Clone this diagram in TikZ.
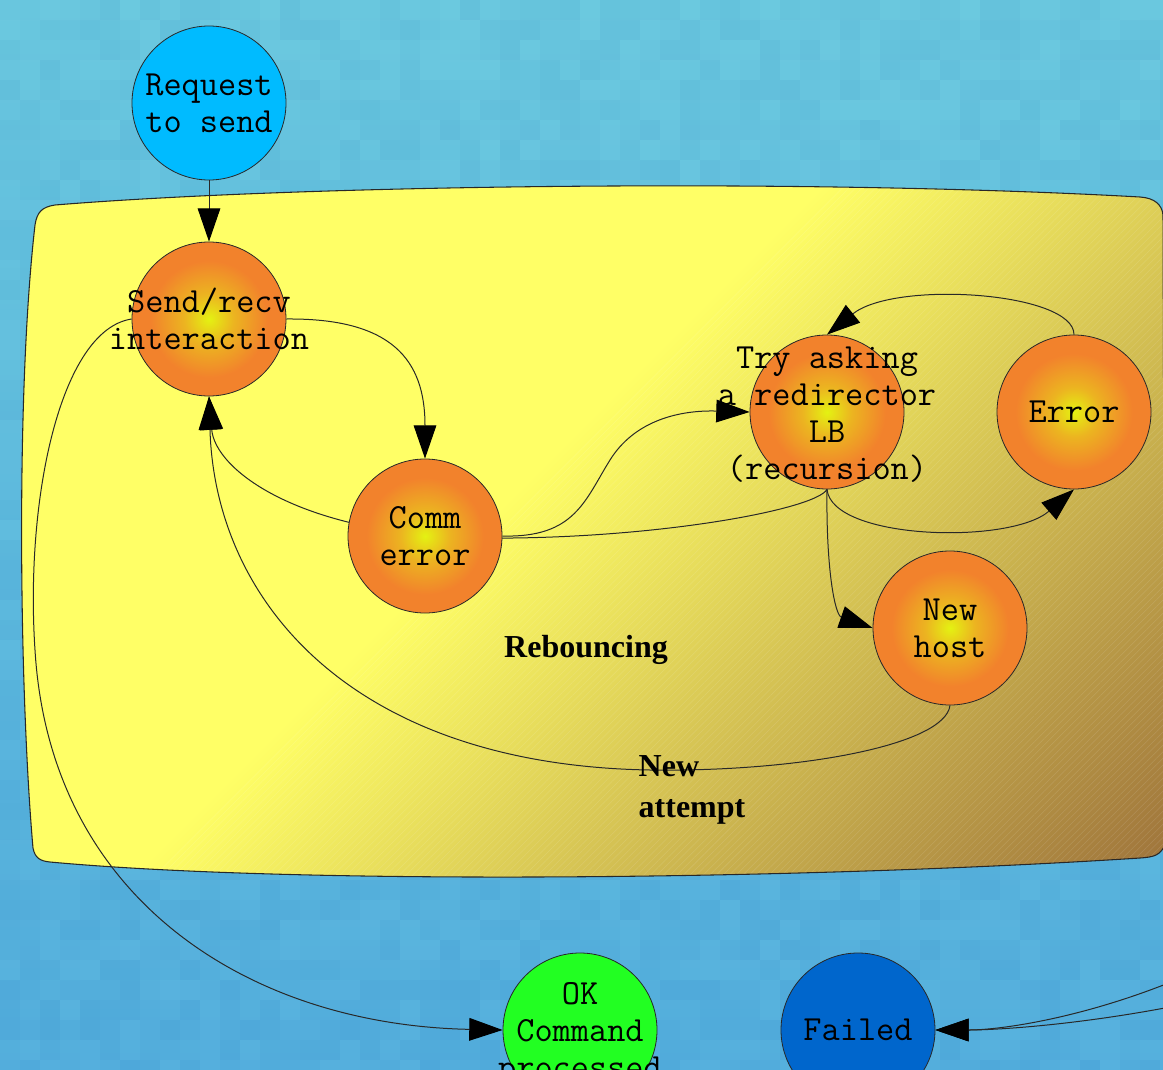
\documentclass[tikz,border=0pt]{standalone}
\usepackage{fontspec}
\newfontfamily\lserif{Liberation Serif}
\usetikzlibrary{arrows.meta,patterns.meta}

\definecolor{bgtop}{RGB}{106,200,222}
\definecolor{bgbot}{RGB}{80,170,220}
\definecolor{bgL}{RGB}{118,210,232}
\definecolor{bgD}{RGB}{72,162,208}
\definecolor{cY}{RGB}{255,255,102}
\definecolor{cBr}{RGB}{160,118,60}
\definecolor{orbY}{RGB}{228,242,18}
\definecolor{orbO}{RGB}{242,130,44}
\colorlet{orbM}{orbY!45!orbO}
\definecolor{reqC}{RGB}{0,187,255}
\definecolor{okC}{RGB}{34,255,34}
\definecolor{failC}{RGB}{0,102,204}
\definecolor{lineC}{RGB}{40,40,40}

\pgfdeclareradialshading{orb}{\pgfpoint{0bp}{0bp}}{color(0bp)=(orbY); color(8bp)=(orbM); color(19bp)=(orbO); color(50bp)=(orbO)}
\pgfdeclarehorizontalshading{clus}{100bp}{color(0bp)=(cY); color(47bp)=(cY); color(72.6bp)=(cBr); color(100bp)=(cBr)}

\pgfdeclarelayer{bg}
\pgfdeclarelayer{edges}
\pgfsetlayers{bg,edges,main}

\tikzset{
  st/.style={circle, draw=lineC, line width=0.6pt, minimum size=115.5pt, inner sep=0pt},
  txt/.style={align=center, inner sep=0pt, font=\ttfamily\fontsize{26.5}{27.75}\selectfont, text=black},
  orbnode/.style={st, shade, shading=orb},
  edge/.style={draw=lineC, line width=0.75pt, -{Triangle[length=25pt,width=17pt,color=black]}},
  lbl/.style={font=\lserif\bfseries\fontsize{24}{30.75}\selectfont, text=black},
}

\begin{document}
\begin{tikzpicture}[x=0.75pt,y=-0.75pt]
\useasboundingbox (0,0) rectangle (1163,1070);
\clip (0,0) rectangle (1163,1070);

\begin{pgfonlayer}{bg}
% background
\shade[top color=bgtop, bottom color=bgbot] (0,0) rectangle (1163,1070);
\pgfmathsetseed{11}
\foreach \i in {0,...,58}{
  \foreach \j in {0,...,53}{
    \pgfmathsetmacro\p{100*rnd}
    \fill[bgL!\p!bgD, opacity=0.18] (\i*20,\j*20) rectangle ++(20,20);
  }
}

% cluster
\def\cluspath{(55,205) .. controls (300,185) and (800,178) .. (1140,197)
  .. controls (1155,198) and (1162,205) .. (1163,215) -- (1165,845)
  .. controls (1160,855) and (1155,857) .. (1140,858)
  .. controls (800,880) and (300,885) .. (50,862)
  .. controls (40,861) and (35,858) .. (33,848)
  .. controls (20,700) and (15,400) .. (35,225)
  .. controls (37,212) and (42,207) .. (55,205) -- cycle}
\begin{scope}
  \clip \cluspath;
  \shade[shading=clus, shading angle=-45] (590,535) ++(-700,-700) rectangle ++(1400,1400);
  \begin{scope}
    \clip (1030,0) -- (1300,0) -- (1300,1200) -- (0,1200) -- (0,1030) -- cycle;
    \fill[pattern={Lines[angle=45,distance=3.5pt,line width=0.4pt]}, pattern color=white, opacity=0.12] (0,0) rectangle (1200,1100);
  \end{scope}
\end{scope}
\draw[lineC, line width=0.8pt] \cluspath;
\end{pgfonlayer}

% nodes
\node[st, fill=reqC, label={[txt]center:{Request\\to send}}] (req) at (209,103) {};
\node[orbnode, label={[txt]center:{Send/recv\\interaction}}] (sr) at (209,319) {};
\node[orbnode, label={[txt]center:{Comm\\error}}] (comm) at (425,536) {};
\node[orbnode, label={[txt, yshift=-2pt]center:{Try asking\\a redirector\\LB\\(recursion)}}] (try) at (827,412) {};
\node[orbnode, label={[txt]center:{Error}}] (err) at (1074,412) {};
\node[orbnode, label={[txt]center:{New\\host}}] (nh) at (950,628) {};
\node[st, fill=okC, label={[txt, yshift=-3pt]center:{OK\\Command\\processed}}] (ok) at (580,1030) {};
\node[st, fill=failC, label={[txt]center:{Failed}}] (fail) at (858,1030) {};

\coordinate (fa) at (1195,972);
\coordinate (fb) at (1195,1002);

% labels
\node[lbl] (reb) at (586,650) {Rebouncing};
\node[lbl, align=left, anchor=west] (na) at (634,790) {New\\attempt};

% edges
\begin{pgfonlayer}{edges}
\draw[edge] (req) -- (sr);
\draw[edge] (sr.east) .. controls (392,318) and (425,360) .. (comm.north);
\draw[edge] (comm.east) .. controls (575,538) and (585,500) .. (610,460)
  .. controls (635,420) and (680,410) .. (try.west);
\draw[edge] (try.south) .. controls (815,510) and (650,540) .. (480,538)
  .. controls (300,535) and (215,470) .. (sr.south);
\draw[edge] (nh.south) .. controls (945,745) and (800,772) .. (650,770)
  .. controls (350,765) and (215,600) .. (sr.south);
\draw[edge] (sr.west) .. controls (60,330) and (25,500) .. (35,650)
  .. controls (50,900) and (250,1025) .. (ok.west);
\draw[edge] (try.south) .. controls (832,540) and (1010,545) .. (err.south);
\draw[edge] (err.north) .. controls (1074,292) and (895,280) .. (try.north);
\draw[edge] (try.south) .. controls (826,570) and (835,615) .. (nh.west);
\draw[edge] (fa) .. controls (1090,1018) and (1000,1030) .. (fail.east);
\draw[edge] (fb) .. controls (1090,1024) and (1000,1030) .. (fail.east);
\end{pgfonlayer}
\end{tikzpicture}
\end{document}
